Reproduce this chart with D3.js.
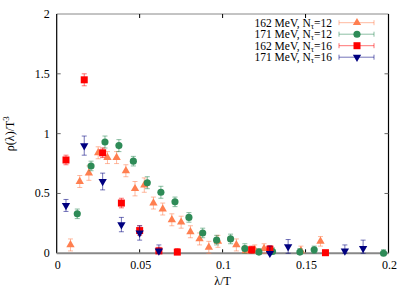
<!DOCTYPE html>
<html><head><meta charset="utf-8">
<script src="https://cdn.jsdelivr.net/npm/d3@7"></script>
<style>body{margin:0;background:#fff}</style>
</head><body><svg id="c" width="415" height="291" font-family="'Liberation Serif', 'DejaVu Serif', serif"></svg>
<script>
// ---- data ----
const xTicks = [0, 0.05, 0.1, 0.15, 0.2];
const xTickLabels = ["0", "0.05", "0.1", "0.15", "0.2"];
const yTicks = [0, 0.5, 1, 1.5, 2];
const yTickLabels = ["0", "0.5", "1", "1.5", "2"];

const seriesNames = ["162 MeV, N", "171 MeV, N", "162 MeV, N", "171 MeV, N"];
const seriesSubs = ["12", "12", "16", "16"];

const lam162_12 = [0.0083,0.0139,0.0194,0.0250,0.0306,0.0361,0.0417,0.0472,0.0528,0.0583,0.0639,0.0694,0.0750,0.0806,0.0861,0.0917,0.0972,0.1083,0.1139,0.1194,0.1250,0.1472,0.1590];
const rho162_12 = [0.07,0.60,0.67,0.84,0.80,0.80,0.69,0.54,0.57,0.42,0.37,0.28,0.26,0.18,0.12,0.05,0.10,0.07,0.02,0.03,0.04,0.02,0.10];
const err162_12 = [0.05,0.05,0.06,0.05,0.05,0.05,0.05,0.06,0.06,0.05,0.05,0.05,0.05,0.05,0.05,0.05,0.05,0.05,0.04,0.04,0.04,0.04,0.04];

const lam171_12 = [0.0124,0.0207,0.0291,0.0375,0.0462,0.0546,0.0628,0.0713,0.0797,0.0880,0.0964,0.1048,0.1134,0.1219,0.1301,0.1466,0.1552,0.1970];
const rho171_12 = [0.33,0.73,0.93,0.90,0.77,0.59,0.51,0.43,0.30,0.17,0.11,0.12,0.04,0.01,0.015,0.01,0.03,0.0];
const err171_12 = [0.04,0.04,0.05,0.05,0.04,0.05,0.05,0.04,0.04,0.04,0.04,0.04,0.04,0.03,0.03,0.03,0.03,0.03];

const lam162_16 = [0.0056,0.0166,0.0277,0.0390,0.0500,0.0616,0.0727,0.1175,0.1285,0.1620];
const rho162_16 = [0.78,1.45,0.84,0.42,0.19,0.02,0.01,0.03,0.035,0.005];
const err162_16 = [0.04,0.05,0.04,0.04,0.04,0.03,0.03,0.03,0.03,0.02];

const lam171_16 = [0.0056,0.0166,0.0277,0.0390,0.0500,0.0616,0.1285,0.1395,0.1737,0.1847];
const rho171_16 = [0.40,0.90,0.60,0.24,0.17,0.02,0.0,0.055,0.02,0.04];
const err171_16 = [0.05,0.08,0.07,0.06,0.06,0.05,0.06,0.06,0.05,0.07];

const colors = ["#ff7f50", "#2e8b57", "#ff0000", "#000080"];

// ---- layout ----
const W = 415, H = 291;
const m = {l: 56.7, r: 26.5, t: 14, b: 37.7};
const FONT = "'Liberation Serif', 'DejaVu Serif', serif";
const svg = d3.select("#c");
const x = d3.scaleLinear().domain([0, 0.2]).range([m.l, W - m.r]);
const y = d3.scaleLinear().domain([0, 2]).range([H - m.b, m.t]);

const series = [
  {lam: lam162_12, rho: rho162_12, err: err162_12, sym: d3.symbolTriangle, rot: 0, size: 30},
  {lam: lam171_12, rho: rho171_12, err: err171_12, sym: d3.symbolCircle, rot: 0, size: 40},
  {lam: lam162_16, rho: rho162_16, err: err162_16, sym: d3.symbolSquare, rot: 0, size: 49},
  {lam: lam171_16, rho: rho171_16, err: err171_16, sym: d3.symbolTriangle, rot: 180, size: 30}
];

function txt(sel, fs) { return sel.append("text").attr("font-family", FONT).attr("font-size", fs || 12).attr("fill", "#000"); }

// frame
const x0 = x(0), x1 = x(0.2), y0 = y(0), y1 = y(2);
svg.append("line").attr("x1", x0).attr("x2", x1).attr("y1", y1).attr("y2", y1).attr("stroke", "#888").attr("stroke-width", 1);
svg.append("line").attr("x1", x0).attr("x2", x0).attr("y1", y1).attr("y2", y0).attr("stroke", "#000").attr("stroke-width", 1.2);
svg.append("line").attr("x1", x1).attr("x2", x1).attr("y1", y1).attr("y2", y0).attr("stroke", "#000").attr("stroke-width", 1.2);

// ticks
const tl = 4;
xTicks.forEach((t, i) => {
  if (i > 0 && i < xTicks.length - 1) {
    svg.append("line").attr("x1", x(t)).attr("x2", x(t)).attr("y1", y0).attr("y2", y0 - tl).attr("stroke", "#000");
    svg.append("line").attr("x1", x(t)).attr("x2", x(t)).attr("y1", y1).attr("y2", y1 + tl).attr("stroke", "#000");
  }
  txt(svg).attr("x", x(t) + 1).attr("y", y0 + 16).attr("text-anchor", "middle").text(xTickLabels[i]);
});
yTicks.forEach((t, i) => {
  if (i > 0 && i < yTicks.length - 1) {
    svg.append("line").attr("x1", x0).attr("x2", x0 + tl).attr("y1", y(t)).attr("y2", y(t)).attr("stroke", "#666");
    svg.append("line").attr("x1", x1).attr("x2", x1 - tl).attr("y1", y(t)).attr("y2", y(t)).attr("stroke", "#666");
  }
  txt(svg).attr("x", x0 - 7).attr("y", y(t) + 4).attr("text-anchor", "end").text(yTickLabels[i]);
});
// bottom (zero) line in grey
svg.append("line").attr("x1", x0).attr("x2", x1).attr("y1", y0).attr("y2", y0).attr("stroke", "#888").attr("stroke-width", 2);

// axis labels
txt(svg).attr("x", (x0 + x1) / 2).attr("y", 285).attr("text-anchor", "middle").text("λ/T");
const yl = txt(svg).attr("transform", `translate(14,${(y0 + y1) / 2}) rotate(-90)`).attr("text-anchor", "middle");
yl.append("tspan").text("ρ(λ)/T");
yl.append("tspan").attr("dy", -5).attr("font-size", 9).text("3");

// data
const cap = 2.5;
series.forEach((s, k) => {
  const g = svg.append("g");
  const c = colors[k];
  s.lam.forEach((l, i) => {
    const px = x(l), lo = y(Math.max(0, s.rho[i] - s.err[i])), hi = y(s.rho[i] + s.err[i]);
    const eg = g.append("g").attr("stroke", c).attr("stroke-opacity", 0.55).attr("stroke-width", 1);
    eg.append("line").attr("x1", px).attr("x2", px).attr("y1", lo).attr("y2", hi);
    eg.append("line").attr("x1", px - cap).attr("x2", px + cap).attr("y1", lo).attr("y2", lo);
    eg.append("line").attr("x1", px - cap).attr("x2", px + cap).attr("y1", hi).attr("y2", hi);
  });
  s.lam.forEach((l, i) => {
    g.append("path").attr("d", d3.symbol(s.sym, s.size)())
      .attr("transform", `translate(${x(l)},${y(s.rho[i])}) rotate(${s.rot})`)
      .attr("fill", c);
  });
});

// legend
const lx = 332, ly = [22.7, 34.2, 45.7, 57.2];
series.forEach((s, k) => {
  const t = txt(svg, 11.5).attr("x", lx).attr("y", ly[k] + 3.8).attr("text-anchor", "end");
  t.append("tspan").text(seriesNames[k]);
  t.append("tspan").attr("font-size", 8).attr("dy", 2).text("τ");
  t.append("tspan").attr("dy", -2).text("=" + seriesSubs[k]);
  const c = colors[k];
  const lg = svg.append("g").attr("stroke", c).attr("stroke-opacity", 0.55);
  lg.append("line").attr("x1", 339).attr("x2", 374).attr("y1", ly[k]).attr("y2", ly[k]);
  lg.append("line").attr("x1", 339).attr("x2", 339).attr("y1", ly[k] - 2.5).attr("y2", ly[k] + 2.5);
  lg.append("line").attr("x1", 374).attr("x2", 374).attr("y1", ly[k] - 2.5).attr("y2", ly[k] + 2.5);
  svg.append("path").attr("d", d3.symbol(s.sym, s.size)())
    .attr("transform", `translate(357,${ly[k]}) rotate(${s.rot})`).attr("fill", c);
});
</script></body></html>
